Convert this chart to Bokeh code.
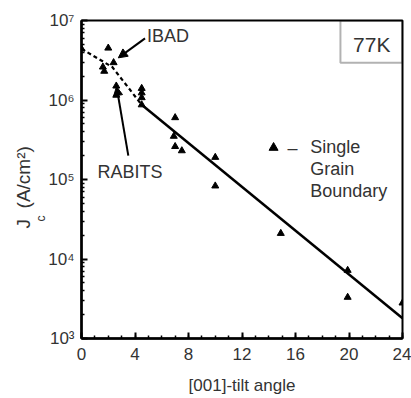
from bokeh.plotting import figure
from bokeh.models import FixedTicker, Arrow, NormalHead, BoxAnnotation, Label, ColumnDataSource, Title
from bokeh.embed import file_html
from bokeh.resources import INLINE

# ---- data ----
tilt_angle = [0.0, 1.6, 1.7, 2.0, 2.4, 2.6, 2.6, 4.5, 4.5, 4.5, 4.5,
              7.0, 6.9, 7.0, 7.5, 10.0, 10.0, 14.9, 19.9, 19.9, 24.0]
jc_values = [4.4e6, 2.6e6, 2.3e6, 4.5e6, 2.95e6, 1.5e6, 1.15e6, 1.4e6, 1.23e6, 1.07e6, 8.7e5,
             6.0e5, 3.5e5, 2.6e5, 2.3e5, 1.9e5, 8.3e4, 2.1e4, 7.2e3, 3.3e3, 2.8e3]

trend_angle = [0.0, 2.3, 4.5]
trend_jc = [4.4e6, 2.6e6, 8.7e5]

fit_angle = [4.5, 24.0]
fit_jc = [8.7e5, 1.8e3]

x_ticks = [0, 4, 8, 12, 16, 20, 24]
x_minor = list(range(0, 25))
y_ticks = [1e3, 1e4, 1e5, 1e6, 1e7]
y_tick_labels = ["10\u00b3", "10\u2074", "10\u2075", "10\u2076", "10\u2077"]
y_minor = [m * 10 ** e for e in range(3, 7) for m in range(2, 10)]

legend_lines = ["Single", "Grain", "Boundary"]

FONT = "Liberation Sans"
TXT = "#333333"

p = figure(width=411, height=398, output_backend="svg", toolbar_location=None,
           x_range=(0, 24), y_range=(1e3, 1e7), y_axis_type="log",
           min_border_left=81, min_border_right=9, min_border_top=20, min_border_bottom=60)
p.background_fill_color = "white"
p.border_fill_color = "white"
p.grid.visible = False
p.outline_line_color = "black"
p.outline_line_width = 2

# axes
xa = p.xaxis[0]
xa.ticker = FixedTicker(ticks=x_ticks, minor_ticks=x_minor)
ya = p.yaxis[0]
ya.ticker = FixedTicker(ticks=y_ticks, minor_ticks=y_minor)
ya.major_label_overrides = dict(zip(y_ticks, y_tick_labels))
for ax in (xa, ya):
    ax.axis_line_width = 2.5
    ax.axis_line_color = "black"
    ax.major_tick_in = 6
    ax.major_tick_out = 0
    ax.minor_tick_in = 3
    ax.minor_tick_out = 0
    ax.major_tick_line_width = 2
    ax.minor_tick_line_width = 1.5
    ax.major_label_text_font = FONT
    ax.major_label_text_font_size = "17px"
    ax.major_label_text_color = TXT
xa.major_label_standoff = 9
ya.major_label_standoff = 7
xa.axis_label = "[001]-tilt angle"
xa.axis_label_text_font = FONT
xa.axis_label_text_font_size = "17px"
xa.axis_label_text_font_style = "normal"
xa.axis_label_text_color = TXT
xa.axis_label_standoff = 13

# y axis title: J_c (A/cm^2) -- subscript c placed as its own title column
p.add_layout(Title(text="c", align="left", offset=117, standoff=-4, text_font=FONT,
                   text_font_size="12px", text_font_style="normal", text_color=TXT), "left")
p.add_layout(Title(text="J\u00a0\u00a0(A/cm\u00b2)", align="left", offset=110, standoff=0,
                   text_font=FONT, text_font_size="19px", text_font_style="normal",
                   text_color=TXT), "left")

# lines
p.line(trend_angle, trend_jc, line_color="black", line_width=2.2, line_dash="4 3")
p.line(fit_angle, fit_jc, line_color="black", line_width=2.5)

# points
src = ColumnDataSource(dict(x=tilt_angle, y=jc_values))
p.scatter("x", "y", source=src, marker="triangle", size=7, fill_color="black", line_color="black")

def lg(v):
    return 10 ** v

# annotations
p.add_layout(Label(x=4.9, y=lg(6.80), text="IBAD", text_font=FONT, text_font_size="18px",
                   text_color=TXT, text_baseline="middle", text_align="left"))
p.add_layout(Arrow(x_start=4.75, y_start=lg(6.775), x_end=2.75, y_end=lg(6.53),
                   line_width=2, line_color="black",
                   end=NormalHead(size=9, fill_color="black", line_color="black")))
p.add_layout(Label(x=1.2, y=lg(5.09), text="RABITS", text_font=FONT, text_font_size="18px",
                   text_color=TXT, text_baseline="middle", text_align="left"))
p.add_layout(Arrow(x_start=3.5, y_start=lg(5.30), x_end=2.62, y_end=lg(6.17),
                   line_width=2, line_color="black",
                   end=NormalHead(size=9, fill_color="black", line_color="black")))

# 77K box
p.add_layout(BoxAnnotation(left=19.36, right=24, bottom=lg(6.47), top=1e7,
                           fill_alpha=0, line_color="black", line_width=2))
p.add_layout(Label(x=21.7, y=lg(6.70), text="77K", text_font=FONT, text_font_size="21px",
                   text_color=TXT, text_baseline="middle", text_align="center"))

# legend note
p.scatter([14.36], [lg(5.40)], marker="triangle", size=9, fill_color="black", line_color="black")
p.add_layout(Label(x=15.4, y=lg(5.40), text="\u2013", text_font=FONT, text_font_size="18px",
                   text_color=TXT, text_baseline="middle", text_align="left"))
for i, t in enumerate(legend_lines):
    p.add_layout(Label(x=17.1, y=lg(5.405 - i * 0.272), text=t, text_font=FONT,
                       text_font_size="18px", text_color=TXT, text_baseline="middle", text_align="left"))

open("out.html", "w").write(file_html(p, INLINE))
